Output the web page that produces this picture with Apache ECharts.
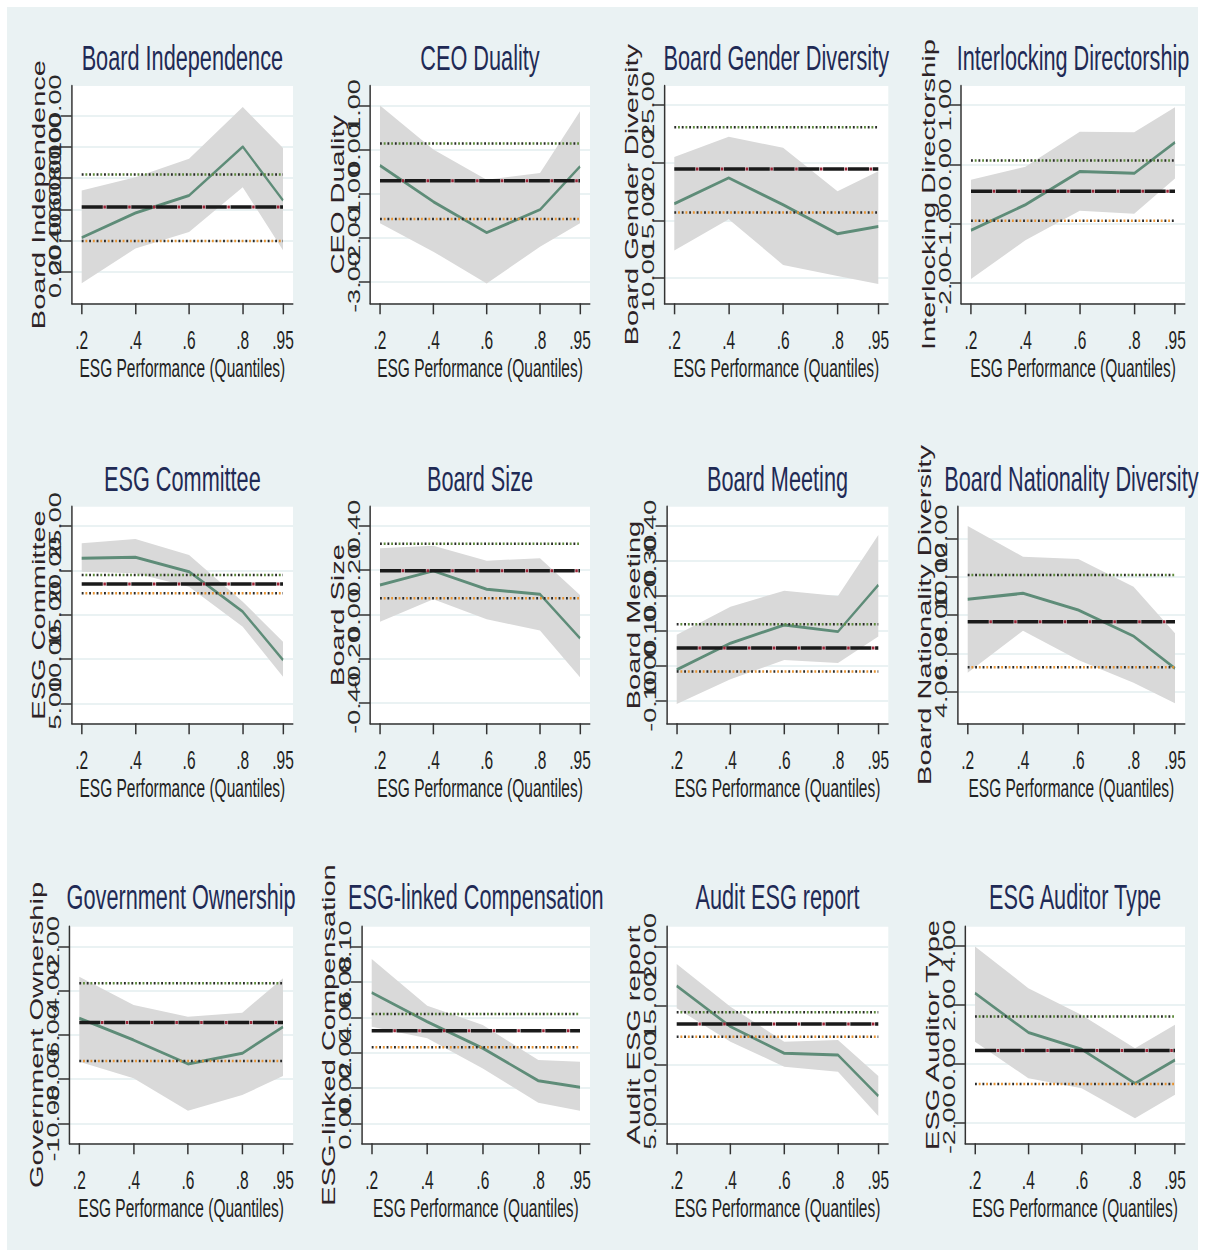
<!DOCTYPE html>
<html>
<head>
<meta charset="utf-8">
<title>ESG Performance quantile plots</title>
<script src="https://cdn.jsdelivr.net/npm/echarts@6/dist/echarts.min.js"></script>
<style>
html, body { margin: 0; padding: 0; overflow: hidden; background: #fff; }
#frame { position: absolute; left: 7px; top: 7px; width: 1191px; height: 1243px; background: #eaf2f3; }
#main { position: absolute; left: 0; top: 0; height: 1255px; transform-origin: 0 0; }
</style>
</head>
<body>
<div id="frame"></div>
<div id="main"></div>
<script>
// quantiles on the x axis
var quantiles = [0.2, 0.4, 0.6, 0.8, 0.95];

var panelTitles = [
    'Board Independence', 'CEO Duality', 'Board Gender Diversity', 'Interlocking Directorship',
    'ESG Committee', 'Board Size', 'Board Meeting', 'Board Nationality Diversity',
    'Government Ownership', 'ESG-linked Compensation', 'Audit ESG report', 'ESG Auditor Type'
];

// quantile regression estimates and their confidence band
var qrEst = [
    [21.9, 37.7, 48.9, 80.2, 45.8],
    [-0.36, -1.18, -1.88, -1.36, -0.38],
    [16.44, 18.68, 16.35, 13.83, 14.47],
    [-1.11, -0.68, -0.12, -0.15, 0.37],
    [21.36, 21.47, 19.85, 15.33, 9.88],
    [0.133, 0.197, 0.114, 0.091, -0.108],
    [-0.011, 0.065, 0.117, 0.098, 0.231],
    [8.82, 9.13, 8.26, 6.9, 5.22],
    [-5.24, -6.23, -7.31, -6.83, -5.63],
    [0.074, 0.0575, 0.0425, 0.0241, 0.0204],
    [16.67, 13.21, 10.95, 10.8, 7.32],
    [2.4, 1.07, 0.5, -0.65, 0.14]
];
var qrHigh = [
    [52.1, 60.6, 72.4, 105.7, 79.4],
    [1.0, 0.0, -0.68, -0.53, 0.87],
    [20.5, 22.25, 21.29, 17.51, 19.25],
    [-0.26, -0.04, 0.55, 0.54, 0.96],
    [23.05, 23.53, 21.73, 16.46, 11.95],
    [0.299, 0.31, 0.243, 0.254, 0.088],
    [0.089, 0.169, 0.215, 0.2, 0.374],
    [12.64, 11.04, 10.92, 9.48, 7.05],
    [-3.36, -4.64, -5.17, -4.99, -3.43],
    [0.093, 0.0666, 0.0557, 0.0358, 0.0349],
    [18.53, 14.91, 11.93, 12.08, 9.02],
    [3.98, 2.57, 1.66, 0.54, 1.33]
];
var qrLow = [
    [-7.4, 14.9, 25.5, 54.2, 13.8],
    [-1.67, -2.31, -3.03, -2.2, -1.67],
    [12.38, 15.1, 11.13, 10.17, 9.48],
    [-1.93, -1.28, -0.78, -0.83, -0.24],
    [19.85, 19.66, 18.15, 13.64, 8.0],
    [-0.033, 0.069, -0.022, -0.073, -0.284],
    [-0.109, -0.038, 0.017, 0.008, 0.084],
    [4.99, 7.18, 5.65, 4.47, 3.4],
    [-7.21, -7.96, -9.43, -8.72, -7.86],
    [0.0547, 0.0481, 0.0311, 0.0117, 0.0071],
    [14.77, 11.93, 9.81, 9.38, 5.62],
    [0.76, -0.48, -0.82, -1.83, -1.04]
];

// OLS estimate and its confidence interval
var olsEst = [41.5, -0.705, 19.46, -0.453, 18.46, 0.197, 0.051, 7.65, -5.43, 0.0524, 13.44, 0.457];
var olsHigh = [62.3, 0.136, 23.08, 0.066, 19.47, 0.319, 0.119, 10.09, -3.66, 0.0619, 14.43, 1.607];
var olsLow = [19.8, -1.57, 15.68, -0.948, 17.41, 0.073, -0.016, 5.27, -7.18, 0.043, 12.36, -0.67];

// y tick values of every panel
var yTicks = [
    [0, 20, 40, 60, 80, 100],
    [-3, -2, -1, 0, 1],
    [10, 15, 20, 25],
    [-2, -1, 0, 1],
    [5, 10, 15, 20, 25],
    [-0.4, -0.2, 0, 0.2, 0.4],
    [-0.1, 0, 0.1, 0.2, 0.3, 0.4],
    [4, 6, 8, 10, 12],
    [-10, -8, -6, -4, -2],
    [0, 0.02, 0.04, 0.06, 0.08, 0.1],
    [5, 10, 15, 20],
    [-2, 0, 2, 4]
];

// ---- layout (reference picture is squeezed horizontally) ----
var S = 0.62;
var W = 1205 / S;
var yRange = [
    [-20.2, 119.1], [-3.48, 1.44], [7.8, 26.65], [-2.34, 1.32],
    [2.74, 27.18], [-0.492, 0.487], [-0.164, 0.455], [2.35, 13.65],
    [-10.906, -1.094], [-0.0113, 0.1113], [3.3, 21.7], [-2.68, 4.65]
];
var gridLeft = [71.7, 370, 664.3, 961, 71.7, 370, 666.7, 957.7, 69.3, 361.7, 666.7, 965];
var gridRight = [293, 590, 888.3, 1185];
var rowTop = [86, 506.7, 926.7];
var rowBottom = [303.3, 723.3, 1143.3];
var titleTop = [40, 461, 879];
var FONT = 'Liberation Sans, Arial, sans-serif';

var main = document.getElementById('main');
main.style.width = W + 'px';
main.style.transform = 'scaleX(' + S + ')';
var myChart = echarts.init(main, null, {renderer: 'svg'});

function bandRenderer(i){
    return function (params, api) {
        if (params.dataIndex !== 0) return null;
        var up = [], down = [];
        for (var j = 0; j < quantiles.length; j++) {
            up.push(api.coord([quantiles[j], qrHigh[i][j]]));
            down.unshift(api.coord([quantiles[j], qrLow[i][j]]));
        }
        return {
            type: 'polygon',
            shape: { points: up.concat(down) },
            style: { fill: '#d9d9d9' },
            silent: true
        };
    };
}

function flatLine(v){
    return [[quantiles[0], v], [quantiles[quantiles.length - 1], v]];
}

var grids = [], xAxes = [], yAxes = [], titles = [], series = [];

for (var i = 0; i < 12; i++) {
    var r = Math.floor(i / 4), c = i % 4;
    var L = gridLeft[i], R = gridRight[c];
    var m = 0.75 * 10 / (R - L - 20);
    grids.push({
        left: L / S, width: (R - L) / S,
        top: rowTop[r], height: rowBottom[r] - rowTop[r],
        show: true, backgroundColor: '#fff', borderWidth: 0
    });
    titles.push({
        text: panelTitles[i],
        left: (L + R) / 2 / S, top: titleTop[r],
        textAlign: 'center', padding: 0,
        textStyle: { fontSize: 35, fontWeight: 'normal', color: '#1f2a55', fontFamily: FONT }
    });
    xAxes.push({
        gridIndex: i, type: 'value',
        min: 0.2 - m, max: 0.95 + m,
        name: 'ESG Performance (Quantiles)',
        nameLocation: 'middle', nameGap: 52, nameMoveOverlap: false,
        nameTextStyle: { fontSize: 25, color: '#222', fontFamily: FONT },
        axisLine: { onZero: false, lineStyle: { color: '#333', width: 1.5 } },
        axisTick: { customValues: quantiles, length: 11, lineStyle: { color: '#333', width: 2.4 } },
        axisLabel: {
            customValues: quantiles, margin: 24, fontSize: 25, color: '#222', fontFamily: FONT,
            formatter: function (v) { return String(v).replace(/^0/, ''); }
        },
        splitLine: { show: false }
    });

    // main y axis: line, ticks, grid lines and title
    var yMain = yAxes.length;
    yAxes.push({
        gridIndex: i, type: 'value', position: 'left',
        min: yRange[i][0], max: yRange[i][1],
        name: panelTitles[i],
        nameLocation: 'middle', nameRotate: 90, nameGap: 38, nameMoveOverlap: false,
        nameTextStyle: { fontSize: 29, color: '#2d2226', fontFamily: FONT },
        axisLine: { show: true, onZero: false, lineStyle: { color: '#333', width: 2.4 } },
        axisTick: { show: true, customValues: yTicks[i], length: 18, lineStyle: { color: '#333', width: 1.5 } },
        axisLabel: { show: false },
        splitLine: { show: true, lineStyle: { color: '#eaf2f3', width: 2 } }
    });
    // one label-only axis per tick, so the vertical labels may overlap as in Stata
    yTicks[i].forEach(function (t) {
        yAxes.push({
            gridIndex: i, type: 'value', position: 'left',
            min: yRange[i][0], max: yRange[i][1],
            axisLine: { show: false }, axisTick: { show: false }, splitLine: { show: false },
            axisLabel: {
                customValues: [t], rotate: 90, margin: 12, fontSize: 27, color: '#2a2a2a', fontFamily: FONT,
                formatter: function (v) { return v.toFixed(2); }
            }
        });
    });

    series.push({
        type: 'custom', xAxisIndex: i, yAxisIndex: yMain,
        data: quantiles.map(function (q, j) { return [q, qrLow[i][j], qrHigh[i][j]]; }),
        encode: { x: 0, y: [1, 2] },
        renderItem: bandRenderer(i)
    });
    series.push({
        type: 'line', xAxisIndex: i, yAxisIndex: yMain,
        data: quantiles.map(function (q, j) { return [q, qrEst[i][j]]; }),
        symbol: 'none',
        lineStyle: { color: '#5e8c78', width: 3 }
    });
    // OLS estimate: maroon specks under black dashes
    series.push({
        type: 'line', xAxisIndex: i, yAxisIndex: yMain, data: flatLine(olsEst[i]), symbol: 'none',
        lineStyle: { color: '#9b2335', width: 3, type: [4, 36], dashOffset: 5 }
    });
    series.push({
        type: 'line', xAxisIndex: i, yAxisIndex: yMain, data: flatLine(olsEst[i]), symbol: 'none',
        lineStyle: { color: '#1a1a1a', width: 3.5, type: [34, 6] }
    });
    // OLS confidence interval, dotted
    series.push({
        type: 'line', xAxisIndex: i, yAxisIndex: yMain, data: flatLine(olsHigh[i]), symbol: 'none',
        lineStyle: { color: '#2a2a2a', width: 2.5, type: [3, 9] }
    });
    series.push({
        type: 'line', xAxisIndex: i, yAxisIndex: yMain, data: flatLine(olsHigh[i]), symbol: 'none',
        lineStyle: { color: '#5d8a3a', width: 2.5, type: [3, 9], dashOffset: 6 }
    });
    series.push({
        type: 'line', xAxisIndex: i, yAxisIndex: yMain, data: flatLine(olsLow[i]), symbol: 'none',
        lineStyle: { color: '#2a2a2a', width: 2.5, type: [3, 9] }
    });
    series.push({
        type: 'line', xAxisIndex: i, yAxisIndex: yMain, data: flatLine(olsLow[i]), symbol: 'none',
        lineStyle: { color: '#e8922e', width: 2.5, type: [3, 9], dashOffset: 6 }
    });
}

var option = {
    backgroundColor: 'transparent',
    animation: false,
    textStyle: { fontFamily: FONT },
    title: titles,
    grid: grids,
    xAxis: xAxes,
    yAxis: yAxes,
    series: series
};
myChart.setOption(option);
</script>
</body>
</html>
